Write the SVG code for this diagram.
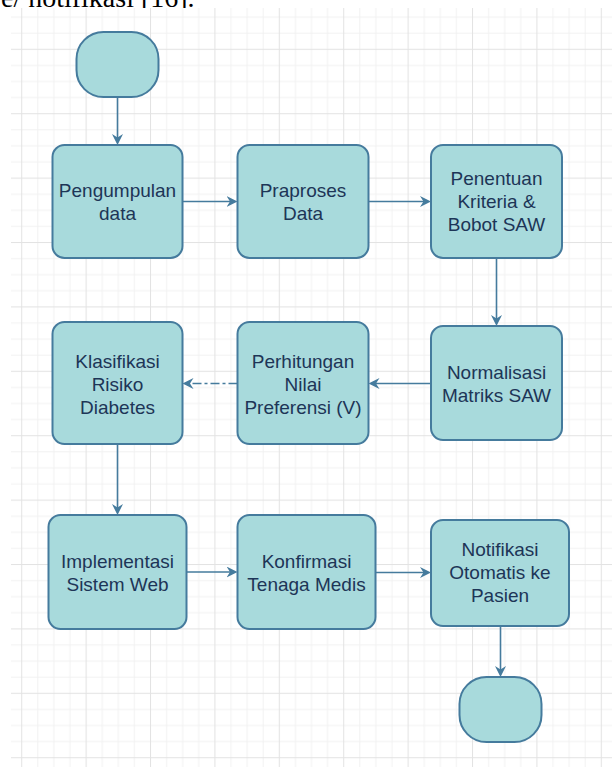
<svg xmlns="http://www.w3.org/2000/svg" width="612" height="767" viewBox="0 0 612 767">
  <defs>
    <pattern id="grid" patternUnits="userSpaceOnUse" x="21.2" y="48.8" width="64.4" height="64.4">
      <rect x="0" y="0" width="64.4" height="64.4" fill="#ffffff"/>
      <g fill="#f2f2f2">
        <rect x="16.1" y="0" width="1" height="64.4"/>
        <rect x="32.2" y="0" width="1" height="64.4"/>
        <rect x="48.3" y="0" width="1" height="64.4"/>
        <rect x="0" y="16.1" width="64.4" height="1"/>
        <rect x="0" y="32.2" width="64.4" height="1"/>
        <rect x="0" y="48.3" width="64.4" height="1"/>
      </g>
      <g fill="#e3e3e3">
        <rect x="0" y="0" width="1" height="64.4"/>
        <rect x="0" y="0" width="64.4" height="1"/>
      </g>
    </pattern>
    <marker id="arrow" viewBox="0 0 11 11" refX="8" refY="5.5" markerWidth="11" markerHeight="11" markerUnits="userSpaceOnUse" orient="auto">
      <path d="M0,0 L11,5.5 L0,11 L3.5,5.5 Z" fill="#457B9D"/>
    </marker>
  </defs>
  <style>
    .box { fill: #A8DADC; stroke: #457B9D; stroke-width: 2; }
    .lbl { font-family: "Liberation Sans", Arial, sans-serif; font-size: 19px; fill: #1D3557; text-anchor: middle; }
    .edge { fill: none; stroke: #457B9D; stroke-width: 1.6; marker-end: url(#arrow); }
    .caption { font-family: "Liberation Serif", "Times New Roman", serif; font-size: 28px; fill: #000000; }
  </style>

  <rect x="0" y="0" width="612" height="767" fill="#ffffff"/>
  <text class="caption" x="1" y="6.5">e/ notifikasi [16].</text>
  <rect x="11" y="8" width="601" height="759" fill="url(#grid)"/>

  <g id="connectors">
    <path class="edge" d="M117.5,98 V142"/>
    <path class="edge" d="M182.5,201.5 H234.5"/>
    <path class="edge" d="M368.5,201.5 H428"/>
    <path class="edge" d="M496.5,258 V323"/>
    <path class="edge" d="M431,383.5 H371.5"/>
    <path class="edge" d="M237.5,383.5 H185.5" stroke-dasharray="9 3 3 3"/>
    <path class="edge" d="M117.5,444 V512"/>
    <path class="edge" d="M186.5,572 H234.5"/>
    <path class="edge" d="M375.5,572.5 H428"/>
    <path class="edge" d="M500.5,626 V674"/>
  </g>

  <g id="start">
    <rect class="box" x="76.5" y="32" width="82" height="65" rx="27" ry="27"/>
  </g>

  <g id="pengumpulan">
    <rect class="box" x="52.5" y="145" width="130" height="113" rx="12"/>
    <text class="lbl" x="117.5" y="196.5">Pengumpulan</text>
    <text class="lbl" x="117.5" y="220">data</text>
  </g>

  <g id="praproses">
    <rect class="box" x="237.5" y="145" width="131" height="113" rx="12"/>
    <text class="lbl" x="303" y="196.5">Praproses</text>
    <text class="lbl" x="303" y="220">Data</text>
  </g>

  <g id="penentuan">
    <rect class="box" x="431" y="145" width="131" height="113" rx="12"/>
    <text class="lbl" x="496.5" y="185">Penentuan</text>
    <text class="lbl" x="496.5" y="208">Kriteria &amp;</text>
    <text class="lbl" x="496.5" y="231">Bobot SAW</text>
  </g>

  <g id="normalisasi">
    <rect class="box" x="431" y="326" width="131" height="114" rx="12"/>
    <text class="lbl" x="496.5" y="378.5">Normalisasi</text>
    <text class="lbl" x="496.5" y="401.5">Matriks SAW</text>
  </g>

  <g id="perhitungan">
    <rect class="box" x="237.5" y="322" width="131" height="122" rx="12"/>
    <text class="lbl" x="303" y="368">Perhitungan</text>
    <text class="lbl" x="303" y="391">Nilai</text>
    <text class="lbl" x="303" y="414">Preferensi (V)</text>
  </g>

  <g id="klasifikasi">
    <rect class="box" x="52.5" y="322" width="130" height="122" rx="12"/>
    <text class="lbl" x="117.5" y="368">Klasifikasi</text>
    <text class="lbl" x="117.5" y="391">Risiko</text>
    <text class="lbl" x="117.5" y="414">Diabetes</text>
  </g>

  <g id="implementasi">
    <rect class="box" x="48.5" y="515" width="138" height="114" rx="12"/>
    <text class="lbl" x="117.5" y="568">Implementasi</text>
    <text class="lbl" x="117.5" y="591">Sistem Web</text>
  </g>

  <g id="konfirmasi">
    <rect class="box" x="237.5" y="515" width="138" height="114" rx="12"/>
    <text class="lbl" x="306.5" y="568">Konfirmasi</text>
    <text class="lbl" x="306.5" y="591">Tenaga Medis</text>
  </g>

  <g id="notifikasi">
    <rect class="box" x="431" y="520" width="138" height="106" rx="12"/>
    <text class="lbl" x="500" y="555.5">Notifikasi</text>
    <text class="lbl" x="500" y="578.5">Otomatis ke</text>
    <text class="lbl" x="500" y="601.5">Pasien</text>
  </g>

  <g id="end">
    <rect class="box" x="459.5" y="677" width="82" height="65" rx="27" ry="27"/>
  </g>
</svg>
